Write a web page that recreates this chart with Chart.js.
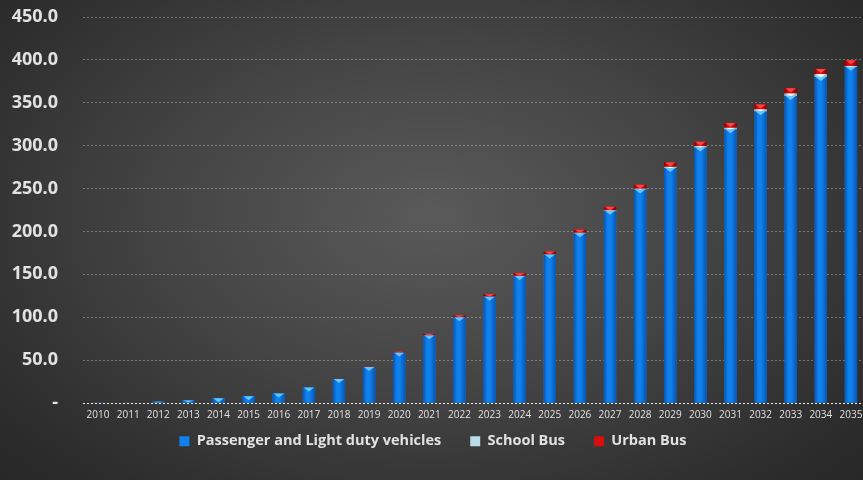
<!DOCTYPE html>
<html>
<head>
<meta charset="utf-8">
<script src="https://cdn.jsdelivr.net/npm/chart.js@4.4.0/dist/chart.umd.min.js"></script>
<style>
  html, body { margin: 0; padding: 0; overflow: hidden; }
  body {
    width: 863px; height: 480px;
    background: radial-gradient(ellipse 70% 80% at 50% 45%, #5a5a5a 0%, #444 45%, #2d2d2d 85%, #272727 100%);
  }
  #wrap { width: 866px; height: 480px; position: relative; }
</style>
</head>
<body>
<div id="wrap"><canvas id="chart"></canvas></div>
<script>
// data
const years = ['2010','2011','2012','2013','2014','2015','2016','2017','2018','2019','2020','2021','2022',
               '2023','2024','2025','2026','2027','2028','2029','2030','2031','2032','2033','2034','2035'];
const passenger = [0.3, 0.8, 1.5, 3, 5.5, 8, 11, 18, 28, 42, 59, 79, 100,
                   124, 148, 173, 198, 224, 249, 274, 298, 319, 340, 358, 380, 392];
const schoolBus = [0, 0, 0, 0, 0, 0, 0, 0, 0, 0, 0, 0.1, 0.2,
                   0.3, 0.4, 0.5, 0.6, 0.8, 1, 1.5, 1.5, 2, 2.5, 3, 3.5, 1];
const urbanBus = [0, 0, 0, 0, 0, 0, 0, 0.2, 0.3, 0.5, 0.8, 1.5, 2,
                  2.5, 3, 3, 3.5, 4, 4.5, 5, 5, 5.5, 5.5, 6, 6, 6.5];
const yTicks = [0, 50, 100, 150, 200, 250, 300, 350, 400, 450];

const textCol = '#e2e2e2';
const fontFam = "'Open Sans', 'DejaVu Sans', sans-serif";

// colour per series: body, edge, cap
const looks = [
  { body: '#1080ec', edge: '#0656b2', cap: '#72d4ff' },
  { body: '#b8dde8', edge: '#7fb0c0', cap: '#ffffff' },
  { body: '#d80e0e', edge: '#8a0000', cap: '#ff5050' }
];

// 📌 cylinder shading + top caps on every bar
const cylinderPlugin = {
  id: 'cylinder',
  afterInit(chart) {
    // keep the legend box short and lift its drawing, like the original
    const lg = chart.legend;
    const fit0 = lg.fit;
    lg.fit = function () { fit0.call(this); this.height = 53; };
    const draw0 = lg.draw;
    lg.draw = function () {
      this.ctx.save();
      this.ctx.translate(0, -22);
      draw0.call(this);
      this.ctx.restore();
    };
  },
  afterDatasetsDraw(chart) {
    const ctx = chart.ctx;
    chart.data.datasets.forEach((ds, di) => {
      const meta = chart.getDatasetMeta(di);
      const look = looks[di];
      meta.data.forEach(bar => {
        const h = bar.base - bar.y;
        if (h < 0.5) return;
        const left = bar.x - bar.width / 2;
        const w = bar.width;
        const g = ctx.createLinearGradient(left, 0, left + w, 0);
        g.addColorStop(0, look.edge);
        g.addColorStop(0.3, look.body);
        g.addColorStop(0.55, look.body);
        g.addColorStop(1, look.edge);
        ctx.save();
        ctx.fillStyle = g;
        ctx.fillRect(left, bar.y, w, h);
        // cap
        const capH = Math.min(4, h);
        ctx.fillStyle = look.cap;
        ctx.beginPath();
        ctx.moveTo(left + 1, bar.y);
        ctx.lineTo(left + w - 1, bar.y);
        ctx.lineTo(bar.x, bar.y + capH);
        ctx.closePath();
        ctx.globalAlpha = 0.85;
        ctx.fill();
        ctx.restore();
      });
    });
  }
};

const mkSet = (label, data, i) => ({
  label: label,
  data: data,
  backgroundColor: looks[i].body,
  borderWidth: 0,
  barPercentage: 0.41,
  categoryPercentage: 1,
  pointStyle: 'rect'
});

new Chart(document.getElementById('chart'), {
  type: 'bar',
  data: {
    labels: years,
    datasets: [
      mkSet('Passenger and Light duty vehicles', passenger, 0),
      mkSet('School Bus', schoolBus, 1),
      mkSet('Urban Bus', urbanBus, 2)
    ]
  },
  options: {
    responsive: true,
    maintainAspectRatio: false,
    animation: false,
    layout: { padding: { top: 17, right: 0, bottom: 0, left: 0 } },
    plugins: {
      tooltip: { enabled: false },
      legend: {
        position: 'bottom',
        labels: {
          color: textCol,
          usePointStyle: true,
          boxWidth: 10,
          boxHeight: 10,
          padding: 29,
          font: { family: fontFam, size: 14.5, weight: 'bold' }
        }
      }
    },
    scales: {
      x: {
        stacked: true,
        grid: { display: false, drawTicks: false },
        border: { display: false },
        afterFit: axis => { axis.paddingLeft = 0; axis.paddingRight = 0; },
        ticks: { color: textCol, font: { family: fontFam, size: 10 }, maxRotation: 0, autoSkip: false, padding: 6 }
      },
      y: {
        stacked: true,
        min: 0,
        max: 450,
        afterBuildTicks: axis => { axis.ticks = yTicks.map(v => ({ value: v })); },
        afterFit: axis => { axis.width = 83; axis.paddingTop = 0; axis.paddingBottom = 0; },
        border: { display: false, dash: [2, 2] },
        grid: {
          color: c => c.tick.value === 0 ? '#f0f0f0' : 'rgba(210,210,210,0.4)',
          lineWidth: 1,
          drawTicks: false
        },
        ticks: {
          color: textCol,
          padding: 25,
          font: { family: fontFam, size: 18, weight: 'bold' },
          callback: v => v === 0 ? '-' : v.toFixed(1)
        }
      }
    }
  },
  plugins: [cylinderPlugin]
});
</script>
</body>
</html>
